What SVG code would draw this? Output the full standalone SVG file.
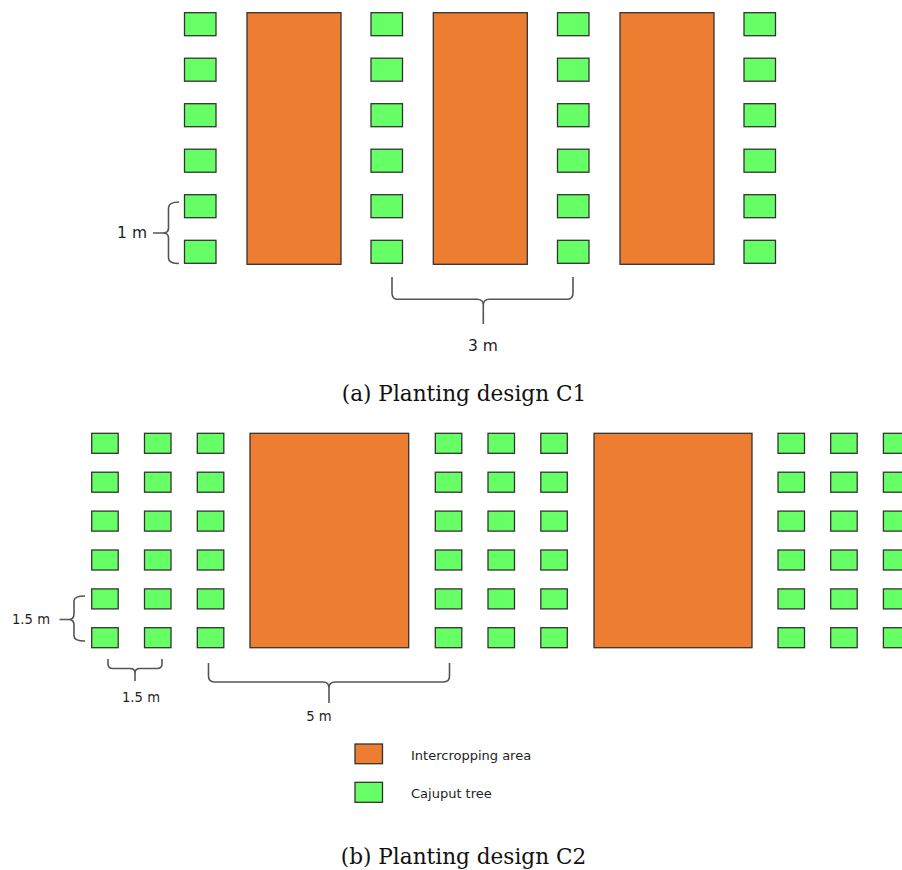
<svg xmlns="http://www.w3.org/2000/svg" width="902" height="870" viewBox="0 0 902 870">
<style>
.t{fill:#6f6;stroke:#333;stroke-width:1.3}
.o{fill:#ED7D31;stroke:#333;stroke-width:1.3}
.br{fill:none;stroke:#555;stroke-width:1.6}
.lb{font-family:"DejaVu Sans",Verdana,sans-serif;fill:#1e1e28}
.cap{font-family:"DejaVu Serif","Liberation Serif",serif;font-size:21.6px;fill:#111;text-anchor:middle}
</style>
<defs>
<rect id="ta" class="t" width="31.5" height="23"/>
<rect id="tb" class="t" width="26.5" height="20"/>
<g id="colA">
<use href="#ta" y="12.7"/><use href="#ta" y="58.2"/><use href="#ta" y="103.7"/><use href="#ta" y="149.2"/><use href="#ta" y="194.7"/><use href="#ta" y="240.3"/>
</g>
<g id="colB">
<use href="#tb" y="433.3"/><use href="#tb" y="472.2"/><use href="#tb" y="511.1"/><use href="#tb" y="550"/><use href="#tb" y="588.9"/><use href="#tb" y="627.7"/>
</g>
</defs>
<rect width="902" height="870" fill="#fff"/>

<g id="c1">
<g id="c1-trees">
<use href="#colA" x="184.5"/><use href="#colA" x="371"/><use href="#colA" x="557.5"/><use href="#colA" x="744"/>
</g>
<g id="c1-areas">
<rect class="o" x="247" y="12.7" width="94" height="251.6"/>
<rect class="o" x="433.3" y="12.7" width="94" height="251.6"/>
<rect class="o" x="620" y="12.7" width="94" height="251.6"/>
</g>
</g>

<g id="c2">
<g id="c2-trees">
<use href="#colB" x="91.7"/><use href="#colB" x="144.5"/><use href="#colB" x="197.3"/>
<use href="#colB" x="435.3"/><use href="#colB" x="488"/><use href="#colB" x="540.8"/>
<use href="#colB" x="778"/><use href="#colB" x="830.7"/><use href="#colB" x="883.4"/>
</g>
<g id="c2-areas">
<rect class="o" x="250" y="433.3" width="158.7" height="214.4"/>
<rect class="o" x="594" y="433.3" width="158" height="214.4"/>
</g>
</g>

<g id="connectors">
<path class="br" d="M179,202 Q168.5,202 168.5,208 L168.5,228 Q168.5,233 163,233 L153,233 M163,233 Q168.5,233 168.5,238 L168.5,258 Q168.5,263.5 179,263.5"/>
<path class="br" d="M392,277 L392,293 Q392,299.3 398,299.3 L477,299.3 Q483.3,299.3 483.3,305 L483.3,324 M483.3,305 Q483.3,299.3 489.5,299.3 L567,299.3 Q573,299.3 573,293 L573,277"/>
<path class="br" d="M85,596 Q74,596 74,601 L74,614 Q74,619.5 68.5,619.5 L59.5,619.5 M68.5,619.5 Q74,619.5 74,625 L74,636 Q74,641 85,641"/>
<path class="br" d="M108,659 L108,664 Q108,668.5 113,668.5 L130,668.5 Q135,668.5 135,673 L135,681 M135,673 Q135,668.5 140,668.5 L157,668.5 Q162,668.5 162,664 L162,659"/>
<path class="br" d="M208.5,663 L208.5,676 Q208.5,682 214.5,682 L323,682 Q329,682 329,688 L329,703 M329,688 Q329,682 335,682 L443.5,682 Q449.5,682 449.5,676 L449.5,663"/>
</g>

<g id="labels">
<text class="lb" x="147" y="237.5" font-size="15.5" text-anchor="end">1 m</text>
<text class="lb" x="483" y="350.5" font-size="15.5" text-anchor="middle">3 m</text>
<text class="lb" x="50" y="624" font-size="13.2" text-anchor="end">1.5 m</text>
<text class="lb" x="141" y="701.5" font-size="13.2" text-anchor="middle">1.5 m</text>
<text class="lb" x="319" y="721" font-size="13.2" text-anchor="middle">5 m</text>
</g>

<g id="legend">
<rect class="o" x="355" y="744" width="27.5" height="19.7"/>
<rect class="t" x="355" y="782.3" width="27.5" height="20"/>
<text class="lb" x="411" y="760" font-size="13">Intercropping area</text>
<text class="lb" x="411" y="797.5" font-size="13">Cajuput tree</text>
</g>

<text class="cap" x="464" y="401">(a) Planting design C1</text>
<text class="cap" x="463.5" y="864">(b) Planting design C2</text>
</svg>
